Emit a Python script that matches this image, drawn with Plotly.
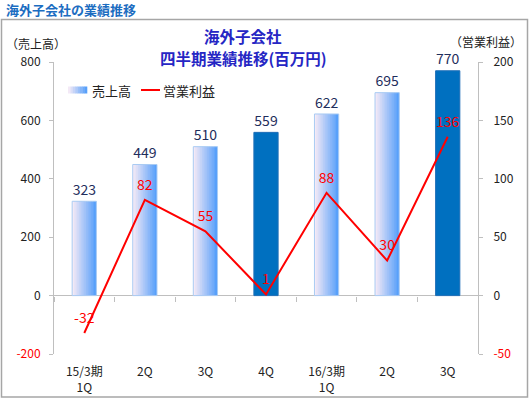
import plotly.graph_objects as go

# ---- data ----
categories = ["15/3期<br>1Q", "2Q", "3Q", "4Q", "16/3期<br>1Q", "2Q", "3Q"]
revenue = [323, 449, 510, 559, 622, 695, 770]
profit = [-32, 82, 55, 1, 88, 30, 136]
left_ticks = [-200, 0, 200, 400, 600, 800]
right_ticks = [-50, 0, 50, 100, 150, 200]
series_names = ["売上高", "営業利益"]

# ---- style ----
FONT = "Noto Sans CJK JP, Noto Sans, sans-serif"
solid_idx = {3, 6}
solid_color = "#0070C0"
grad_left = (243, 233, 246)
grad_right = (88, 160, 250)
N_STRIPS = 14
BAR_W = 0.4
AXIS_COLOR = "#BFBFBF"

# plot area in pixels
W, H = 530, 399
L, R, T, B = 54, 478, 62, 354


def px_x(p):
    return (p - L) / (R - L)


def px_y(p):
    return (B - p) / (B - T)


def grad_color(t):
    c = tuple(round(grad_left[j] + (grad_right[j] - grad_left[j]) * t) for j in range(3))
    return "rgb(%d,%d,%d)" % c


xs = list(range(len(categories)))
grad_x = [i for i in xs if i not in solid_idx]
grad_y = [revenue[i] for i in grad_x]
solid_x = [i for i in xs if i in solid_idx]
solid_y = [revenue[i] for i in solid_x]

fig = go.Figure()

step = BAR_W / N_STRIPS
for k in range(N_STRIPS):
    t = k / (N_STRIPS - 1)
    w = step * 1.6 if k < N_STRIPS - 1 else step
    fig.add_trace(go.Bar(
        x=grad_x, y=grad_y, width=w, offset=-BAR_W / 2 + k * step,
        marker=dict(color=grad_color(t), line=dict(width=0)),
        showlegend=False, hoverinfo="skip",
    ))

fig.add_trace(go.Bar(
    x=solid_x, y=solid_y, width=BAR_W,
    marker=dict(color=solid_color, line=dict(width=0)),
    showlegend=False, hoverinfo="skip",
))

# outline of bars
fig.add_trace(go.Bar(
    x=xs, y=revenue, width=BAR_W, name=series_names[0],
    marker=dict(color="rgba(0,0,0,0)",
                line=dict(width=1, color=["#1F6FB8" if i in solid_idx else "#A9CBF3" for i in xs])),
    showlegend=False, hoverinfo="y",
))

# revenue value labels
fig.add_trace(go.Scatter(
    x=xs, y=revenue, mode="markers+text",
    marker=dict(size=3, color="rgba(0,0,0,0)"),
    text=[str(v) for v in revenue], textposition="top center",
    textfont=dict(family=FONT, size=14, color="#1F2E5C"),
    cliponaxis=False, showlegend=False, hoverinfo="skip",
))

# profit line
fig.add_trace(go.Scatter(
    x=xs, y=profit, yaxis="y2", name=series_names[1],
    mode="lines+markers+text",
    line=dict(color="#FF0000", width=2),
    marker=dict(size=9, color="rgba(0,0,0,0)"),
    text=[str(v) for v in profit], textposition="top center",
    textfont=dict(family=FONT, size=14, color="#FF0000"),
    cliponaxis=False, showlegend=False, hoverinfo="y",
))

# dummy for boundary tick axis
fig.add_trace(go.Scatter(x=[None], y=[None], xaxis="x2", yaxis="y",
                         showlegend=False, hoverinfo="skip"))


def tick_text(vals):
    out = []
    for v in vals:
        if v < 0:
            out.append('<span style="color:#FF0000">%d</span>' % v)
        else:
            out.append(str(v))
    return out


fig.update_layout(
    width=W, height=H,
    margin=dict(l=L, r=W - R, t=T, b=H - B, pad=0, autoexpand=False),
    paper_bgcolor="white", plot_bgcolor="white",
    barmode="overlay",
    font=dict(family=FONT, size=12, color="#222222"),
    xaxis=dict(range=[-0.5, 6.5], tickvals=xs, ticktext=categories,
               showline=False, ticks="", showgrid=False, zeroline=False, automargin=False,
               tickfont=dict(size=12, color="#222222"), ticklabelstandoff=9),
    xaxis2=dict(overlaying="x", anchor="free",
                position=(0 - left_ticks[0]) / (left_ticks[-1] - left_ticks[0]),
                range=[-0.5, 6.5], tickvals=[i - 0.5 for i in range(len(categories) + 1)],
                ticks="outside", ticklen=5, tickcolor=AXIS_COLOR, tickwidth=1, automargin=False,
                showticklabels=False, showline=False, showgrid=False, zeroline=False),
    yaxis=dict(range=[left_ticks[0], left_ticks[-1]], tickvals=left_ticks,
               ticktext=tick_text(left_ticks), automargin=False,
               showline=True, linecolor=AXIS_COLOR, linewidth=1,
               ticks="outside", ticklen=4, tickcolor=AXIS_COLOR,
               showgrid=False, zeroline=True, zerolinecolor=AXIS_COLOR, zerolinewidth=1,
               tickfont=dict(size=12, color="#222222"), ticklabelstandoff=6),
    yaxis2=dict(overlaying="y", side="right", automargin=False,
                range=[right_ticks[0], right_ticks[-1]], tickvals=right_ticks,
                ticktext=tick_text(right_ticks),
                showline=True, linecolor=AXIS_COLOR, linewidth=1,
                ticks="outside", ticklen=4, tickcolor=AXIS_COLOR,
                showgrid=False, zeroline=False,
                tickfont=dict(size=12, color="#222222"), ticklabelstandoff=8),
    showlegend=False,
)

# outer frame
fig.add_shape(type="rect", xref="paper", yref="paper",
              x0=px_x(1.5), x1=px_x(527.5), y0=px_y(397), y1=px_y(19.5),
              line=dict(color="#A6A6A6", width=1.5), fillcolor="rgba(0,0,0,0)", layer="below")

# legend (drawn manually to reproduce the gradient swatch)
LEG_Y = 90
sw_x0, sw_x1 = 68, 87
n_sw = 8
for k in range(n_sw):
    a = sw_x0 + (sw_x1 - sw_x0) * k / n_sw
    b = sw_x0 + (sw_x1 - sw_x0) * (k + 1) / n_sw
    fig.add_shape(type="rect", xref="paper", yref="paper",
                  x0=px_x(a), x1=px_x(b + 0.3), y0=px_y(LEG_Y + 3.5), y1=px_y(LEG_Y - 3.5),
                  line=dict(width=0), fillcolor=grad_color(k / (n_sw - 1)))
fig.add_annotation(text=series_names[0], xref="paper", yref="paper",
                   x=px_x(90), y=px_y(LEG_Y), xanchor="left", yanchor="middle", showarrow=False,
                   font=dict(family=FONT, size=13, color="#222222"))
fig.add_shape(type="line", xref="paper", yref="paper",
              x0=px_x(141), x1=px_x(160), y0=px_y(LEG_Y), y1=px_y(LEG_Y),
              line=dict(color="#FF0000", width=2))
fig.add_annotation(text=series_names[1], xref="paper", yref="paper",
                   x=px_x(161), y=px_y(LEG_Y), xanchor="left", yanchor="middle", showarrow=False,
                   font=dict(family=FONT, size=13, color="#222222"))

# header and titles
fig.add_annotation(text="<b>海外子会社の業績推移</b>", xref="paper", yref="paper",
                   x=px_x(4), y=px_y(9.5), xanchor="left", yanchor="middle", showarrow=False,
                   font=dict(family=FONT, size=13, color="#1C6DC1"))
fig.add_annotation(text="<b>海外子会社</b>", xref="paper", yref="paper",
                   x=px_x(243), y=px_y(36), xanchor="center", yanchor="middle", showarrow=False,
                   font=dict(family=FONT, size=15.5, color="#2626C4"))
fig.add_annotation(text="<b>四半期業績推移(百万円)</b>", xref="paper", yref="paper",
                   x=px_x(243), y=px_y(58.5), xanchor="center", yanchor="middle", showarrow=False,
                   font=dict(family=FONT, size=15.5, color="#2626C4"))
fig.add_annotation(text="（売上高）", xref="paper", yref="paper",
                   x=px_x(35.5), y=px_y(43), xanchor="center", yanchor="middle", showarrow=False,
                   font=dict(family=FONT, size=12, color="#222222"))
fig.add_annotation(text="（営業利益）", xref="paper", yref="paper",
                   x=px_x(486), y=px_y(42), xanchor="center", yanchor="middle", showarrow=False,
                   font=dict(family=FONT, size=12, color="#222222"))

fig.write_html("out.html", config={"displayModeBar": False},
               post_script="document.body.style.margin='0';document.body.style.overflow='hidden';")
